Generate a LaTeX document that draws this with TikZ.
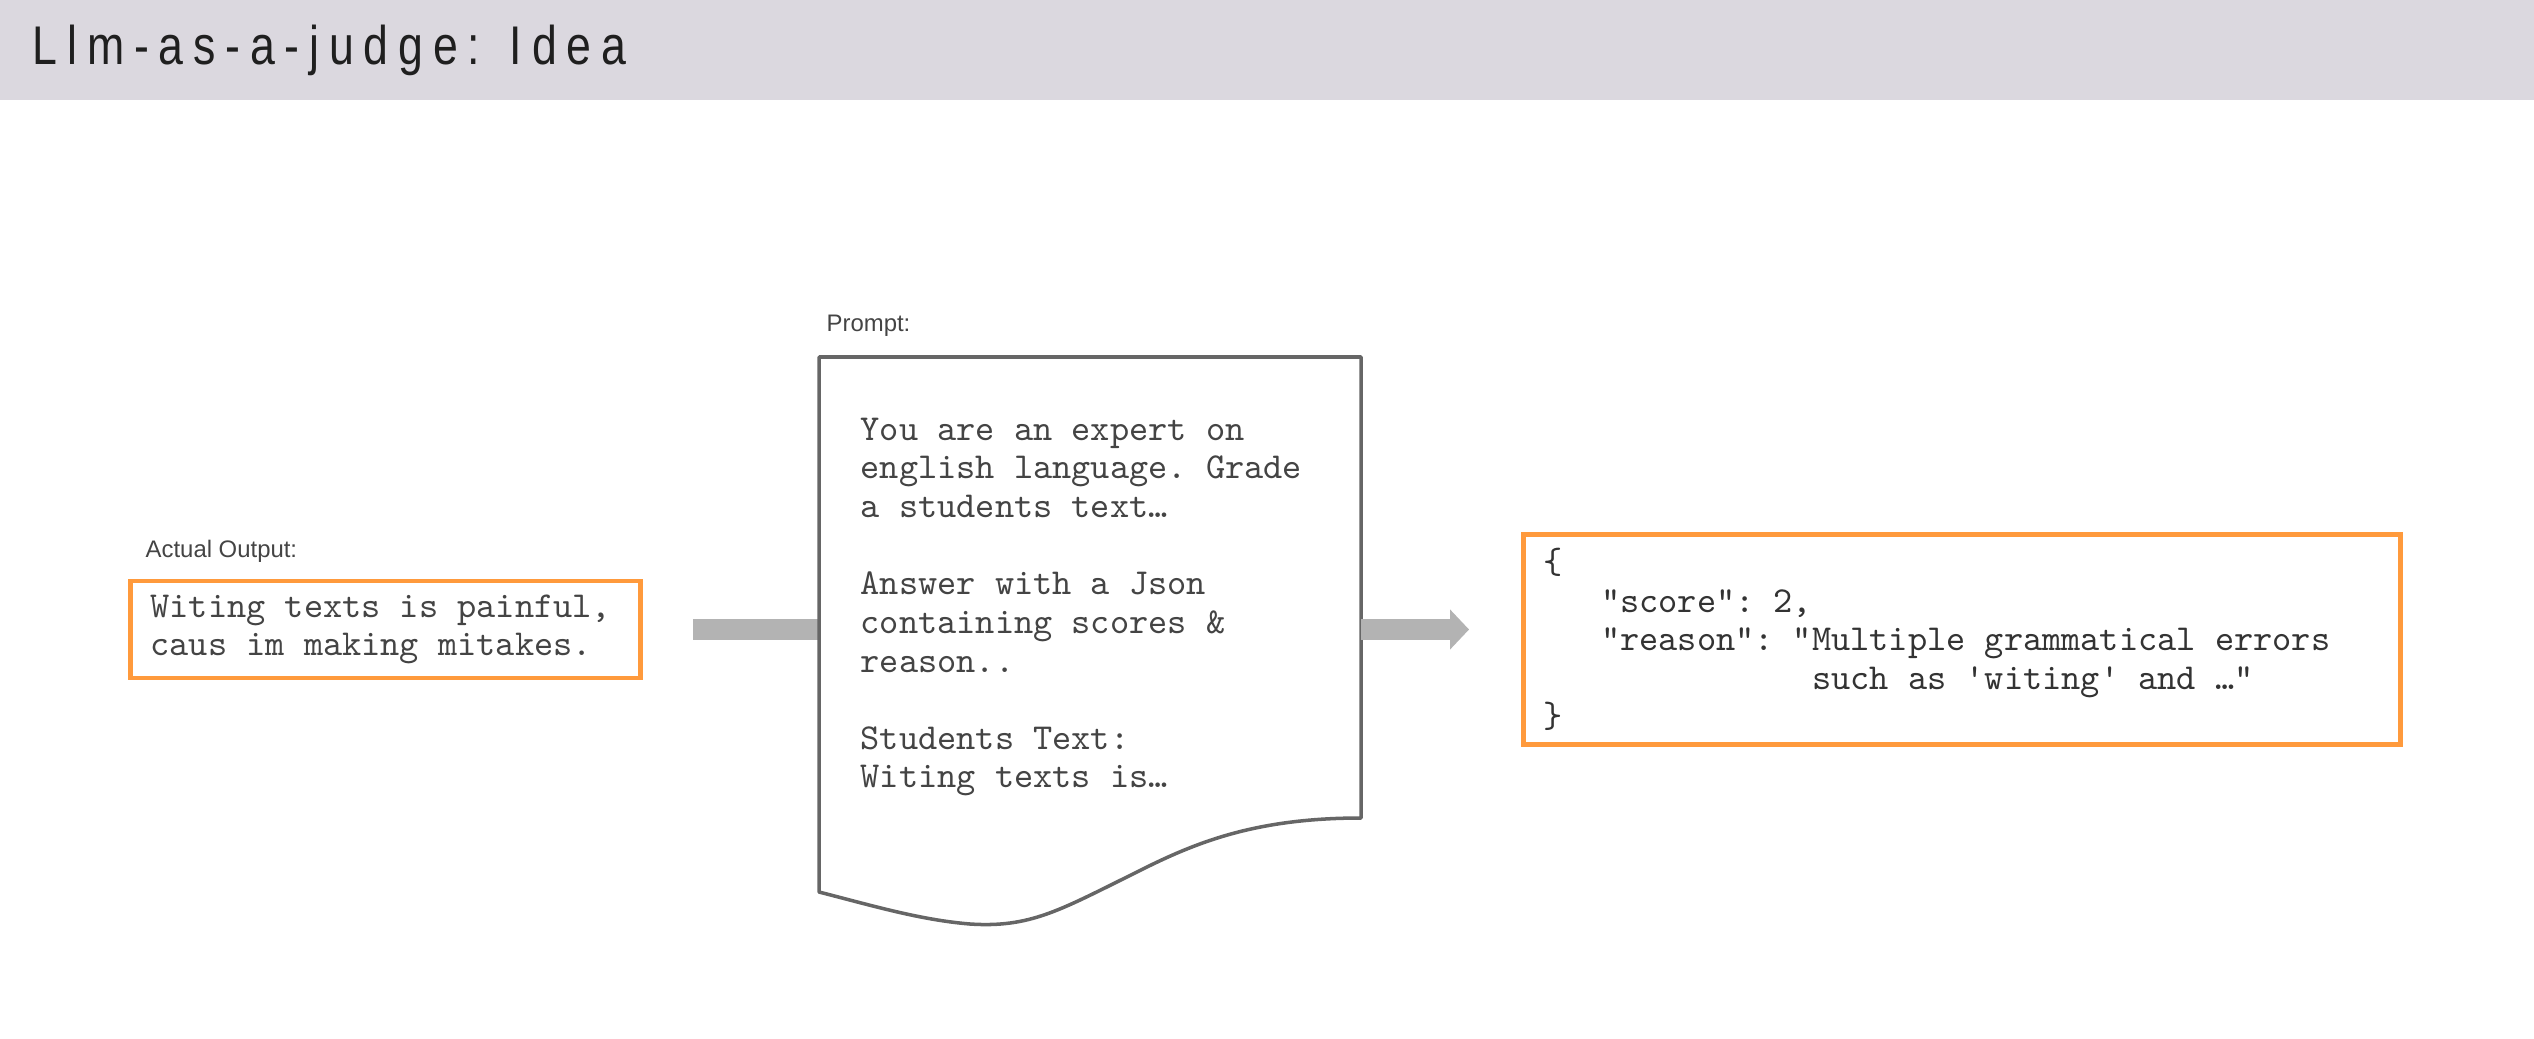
\documentclass[tikz,border=0pt]{standalone}
\usepackage{fontspec}
\setmainfont{Liberation Sans}
\newfontfamily\titlefont[FakeStretch=0.82, LetterSpace=18]{Liberation Sans}
\usepackage{xcolor}
\usetikzlibrary{positioning, arrows.meta}

\definecolor{barbg}{HTML}{DBD8DF}
\definecolor{outorange}{HTML}{FF9A3C}
\definecolor{docgray}{HTML}{666666}
\definecolor{flowgray}{HTML}{B3B3B3}
\definecolor{txtgray}{HTML}{444444}
\newcommand{\monotext}{\fontsize{10.4}{11}\selectfont\ttfamily\frenchspacing}

\begin{document}
\begin{tikzpicture}[
  lbl/.style={font=\fontsize{6.8}{8}\selectfont, text=txtgray, inner sep=0pt},
  outbox/.style={draw=outorange, line width=1.4pt, rectangle, align=left,
                 inner xsep=0.2cm, text=txtgray, font=\monotext,
                 execute at begin node={\spaceskip=0pt\xspaceskip=0pt}},
  doctext/.style={align=left, inner sep=0pt, text=txtgray, font=\monotext},
  docline/.style={draw=docgray, line width=1pt, fill=white, line join=round},
  flow/.style={draw=flowgray, line width=0.21cm},
]
\useasboundingbox (0,0) rectangle (25.34,-10.39);
%% Title bar
\fill[barbg] (0,0) rectangle (25.34,-1.00);
\node[anchor=base west, inner sep=0pt, text=black!88,
      font=\fontsize{15.5}{18}\selectfont\titlefont] (title) at (0.32,-0.64)
  {Llm-as-a-judge: Idea};
%% Actual output
\node[outbox, minimum width=5.10cm, minimum height=0.97cm, text width=4.70cm]
  (actual) at (3.855,-6.295) {Witing texts is painful,\\caus im making mitakes.};
\node[lbl, anchor=base west] (actlbl) at (1.45,-5.57) {Actual Output:};
%% Prompt document
\coordinate (docnw) at (8.19,-3.57);
\coordinate (docne) at (13.61,-3.57);
\coordinate (docse) at (13.61,-8.18);
\coordinate (docsw) at (8.19,-8.92);
\coordinate (docin)  at (docnw |- actual.east);
\coordinate (docout) at (docne |- actual.east);
\draw[flow, shorten <=0.5cm] (actual) -- (docin);
\draw[docline] (docnw) -- (docne) -- (docse)
  .. controls (12.5,-8.18) and (11.9,-8.45) .. (11.31,-8.75)
  .. controls (10.6,-9.1) and (10.3,-9.28) .. (9.7,-9.24)
  .. controls (9.2,-9.2) and (8.7,-9.05) .. (docsw) -- cycle;
\node[lbl, anchor=base west] (promptlbl) at (8.26,-3.31) {Prompt:};
\node[doctext, anchor=north west] (prompt) at (8.60,-4.17)
  {You are an expert on\\english language. Grade\\a students text…\\[11pt]
   Answer with a Json\\containing scores \&\\reason..\\[11pt]
   Students Text:\\Witing texts is…};
%% Judge output
\node[outbox, text=black!80, minimum width=8.77cm, minimum height=2.10cm,
      text width=8.37cm] (judge) at (19.62,-6.395)
  {\{\\
   \hphantom{000}"score": 2,\\
   \hphantom{000}"reason": "Multiple grammatical errors\\
   \hphantom{00000000000000}such as 'witing' and …"\\
   \}};
\draw[flow, -{Triangle[length=0.19cm, width=0.39cm]}, shorten >=0.52cm]
  (docout) -- (docout -| judge.west);
\end{tikzpicture}
\end{document}
